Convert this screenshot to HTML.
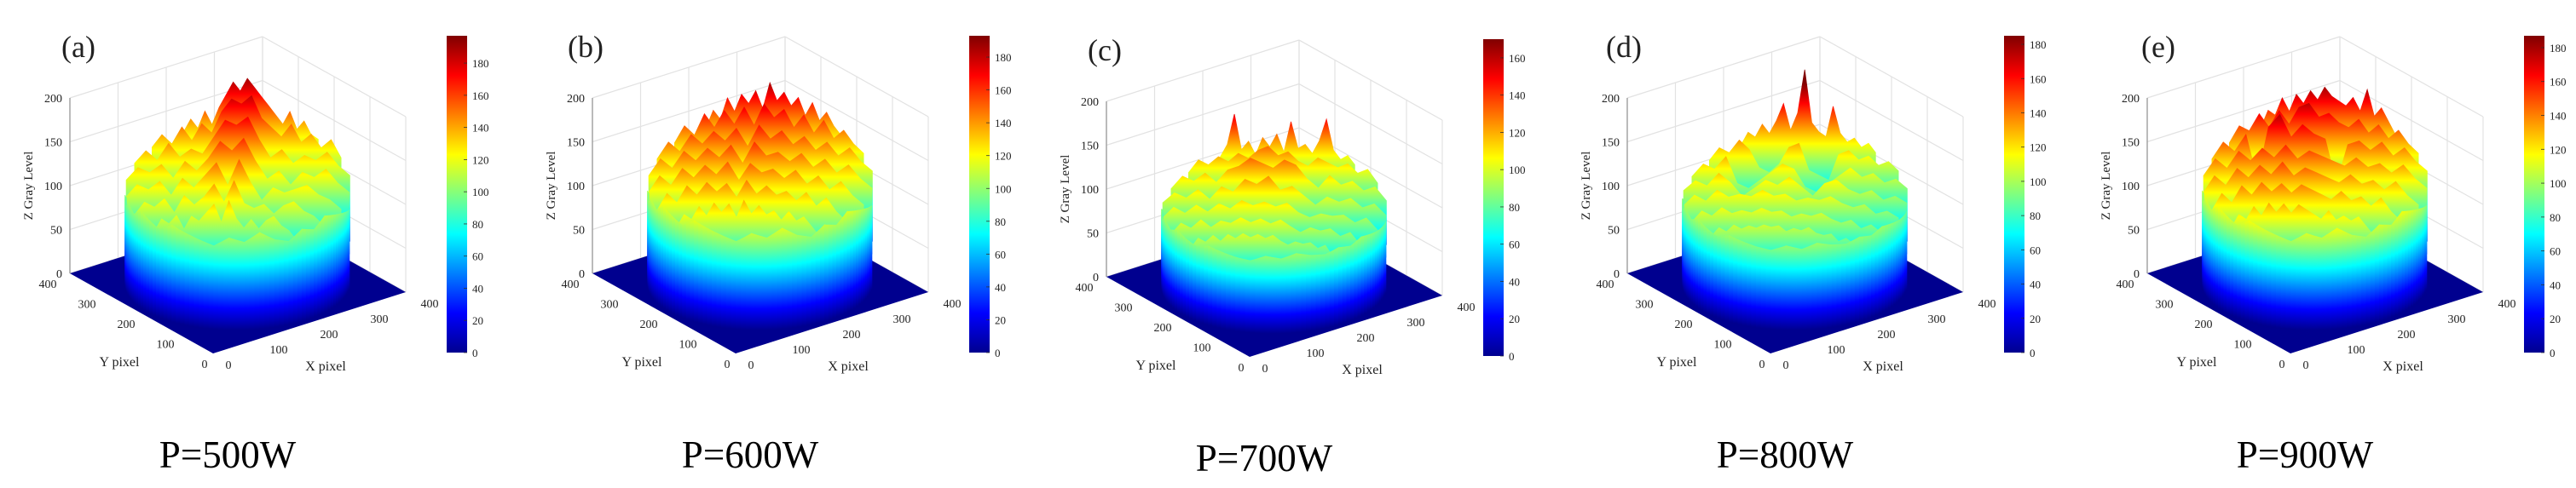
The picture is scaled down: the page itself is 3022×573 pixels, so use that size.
<!DOCTYPE html>
<html><head><meta charset="utf-8">
<style>
html,body{margin:0;padding:0;background:#fff;}
svg{display:block;}
text{font-family:"Liberation Serif",serif;}
</style></head>
<body>
<svg id="fig" xmlns="http://www.w3.org/2000/svg" width="3022" height="573" viewBox="0 0 3022 573">
<rect x="0" y="0" width="3022" height="573" fill="#fff"/>
<defs id="defs"></defs>
</svg>
<script>
// ---- data ----
const panelLetters = ["(a)","(b)","(c)","(d)","(e)"];
const powerLabels = ["P=500W","P=600W","P=700W","P=800W","P=900W"];
const colorMax = [197,193,170,185,187];
const zTicks = [0,50,100,150,200];
const xyTicks = [0,100,200,300,400];
const cbTicksA = [0,20,40,60,80,100,120,140,160,180];
const cbTicksC = [0,20,40,60,80,100,120,140,160];

const rowsA = [
 [125,140,130,150,135,155,170,185,175,190,180,170,160,150,140,155,135,145,130,125],
 [120,135,125,145,130,150,140,165,180,175,185,160,150,140,155,135,145,130,140,120],
 [115,130,120,140,125,135,130,150,170,165,175,150,130,140,125,135,130,140,125,115],
 [110,125,120,130,115,135,125,140,160,150,165,140,120,130,115,130,125,135,120,110],
 [105,120,115,125,110,130,120,135,150,125,155,130,110,125,120,125,130,120,115,105],
 [100,115,110,120,105,125,115,125,140,120,145,120,115,120,110,120,125,115,110,100],
 [95,110,105,115,100,115,110,120,130,110,135,115,105,115,105,115,120,110,105,95]];
const edgeA = [90,100,95,105,100,110,105,100,110,105,100,95,105,100,110,100,95,105,100,110,105,100,95,90];

const rowsB = [
 [130,150,140,165,150,170,160,175,155,185,165,175,160,170,150,165,145,155,140,130],
 [125,145,135,160,145,165,150,170,150,175,160,170,150,165,145,160,140,150,135,125],
 [120,140,130,150,140,155,145,160,140,165,150,160,145,155,140,150,135,145,130,120],
 [115,135,125,145,135,150,140,155,135,160,145,150,140,150,135,145,130,140,125,115],
 [110,130,120,140,130,145,135,150,130,150,140,145,135,145,130,140,125,135,120,110],
 [105,125,115,135,125,140,130,140,125,145,130,140,130,135,125,135,120,130,115,105],
 [100,115,110,125,115,130,120,130,115,135,120,130,120,125,115,125,115,120,110,100]];
const edgeB = [95,105,100,110,105,115,110,105,115,110,105,100,110,105,115,105,100,110,105,115,110,105,100,95];

const rowsC = [
 [100,115,150,110,120,105,125,115,130,110,145,115,120,110,125,150,115,105,110,100],
 [95,110,105,115,110,120,115,125,130,120,125,115,110,120,115,110,115,105,110,95],
 [90,105,100,110,100,115,120,130,125,120,130,125,110,100,115,105,110,100,105,90],
 [88,100,95,105,95,110,105,120,115,125,110,115,105,95,105,100,105,95,100,88],
 [85,98,92,102,95,105,100,110,105,110,105,110,100,95,100,98,100,92,98,85],
 [82,95,90,100,92,100,98,105,100,105,100,105,98,92,98,95,98,90,95,82],
 [80,92,88,96,90,98,94,100,96,100,96,100,94,90,94,92,94,88,92,80]];
const edgeC = [80,88,84,90,86,92,88,85,90,87,84,82,88,85,90,86,84,88,85,90,87,84,82,80];

const rowsD = [
 [110,125,120,135,125,140,160,130,150,200,140,130,125,160,130,120,125,115,120,110],
 [105,120,115,130,120,100,95,105,125,130,100,95,90,120,125,115,120,110,115,105],
 [100,115,110,125,95,90,100,110,120,115,95,90,100,110,120,110,115,105,110,100],
 [98,110,105,120,110,95,105,115,110,120,110,100,115,120,110,105,110,100,105,98],
 [95,108,102,115,108,112,110,118,112,115,108,112,110,115,108,104,108,98,102,95],
 [92,105,100,110,104,108,106,112,108,110,104,108,106,110,104,100,104,95,100,92],
 [90,100,96,104,100,104,102,106,104,106,100,104,102,106,100,98,100,92,96,90]];
const edgeD = [88,96,92,98,94,100,96,92,98,95,92,90,96,92,98,94,92,96,93,98,95,92,90,88];

const rowsE = [
 [130,150,145,165,150,170,160,175,165,180,170,165,160,170,155,180,150,160,145,130],
 [125,145,140,160,145,165,150,170,175,160,165,155,150,160,145,155,140,150,135,125],
 [120,140,130,150,100,160,175,150,165,155,150,100,145,150,140,150,135,145,130,120],
 [115,135,125,145,135,150,140,155,140,150,145,140,135,145,135,140,130,140,125,115],
 [110,130,120,140,130,145,135,150,135,145,140,135,130,140,130,135,125,135,120,110],
 [105,125,115,135,125,140,130,140,130,140,135,130,125,135,125,130,120,130,115,105],
 [100,115,110,125,115,130,120,130,120,130,125,120,115,125,115,120,115,120,110,100]];
const edgeE = [95,105,100,110,105,115,110,105,115,110,105,100,110,105,115,105,100,110,105,115,110,105,100,95];

const allRows = [rowsA,rowsB,rowsC,rowsD,rowsE];
const allEdges = [edgeA,edgeB,edgeC,edgeD,edgeE];

// ---- layout ----
const panelX = [0,613,1216,1827,2437];
const panelY = [0,0,4,0,0];
const letterX = [72,53,60,57,75];
const rowU = [150,100,50,0,-50,-100,-145];
const R = 188, ZS = 1.03;
const NS = "http://www.w3.org/2000/svg";
const svg = document.getElementById('fig');
const defs = document.getElementById('defs');
let gid = 0;

function P(x,y,z){ return [250 + x*0.565 - y*0.42, 415 - x*0.18 - y*0.235 - z*ZS]; }
const jetStops = [[0,"#00008f"],[0.125,"#0000ff"],[0.375,"#00ffff"],[0.625,"#ffff00"],[0.875,"#ff0000"],[1,"#800000"]];
function mkGrad(y1,y2){
  const g = document.createElementNS(NS,'linearGradient');
  const id = 'g'+(gid++);
  g.setAttribute('id',id);
  g.setAttribute('gradientUnits','userSpaceOnUse');
  g.setAttribute('x1',0); g.setAttribute('x2',0);
  g.setAttribute('y1',y1); g.setAttribute('y2',y2);
  jetStops.forEach(s=>{
    const st = document.createElementNS(NS,'stop');
    st.setAttribute('offset',s[0]); st.setAttribute('stop-color',s[1]);
    g.appendChild(st);
  });
  defs.appendChild(g);
  return 'url(#'+id+')';
}
function el(tag, attrs, parent){
  const e = document.createElementNS(NS,tag);
  for (const k in attrs) e.setAttribute(k, attrs[k]);
  parent.appendChild(e);
  return e;
}
function line(a,b,stroke,w,parent,name){
  const l = el('line',{x1:a[0],y1:a[1],x2:b[0],y2:b[1],stroke:stroke,'stroke-width':w},parent);
  
  
  return l;
}
function txt(s,x,y,size,anchor,parent,name,extra){
  const t = el('text',{x:x,y:y,'font-size':size,'text-anchor':anchor,fill:'#222'},parent);
  if (extra) for (const k in extra) t.setAttribute(k, extra[k]);
  t.textContent = s;
  
  
  return t;
}

for (let p=0;p<5;p++){
  const cmax = colorMax[p];
  const g = el('g',{transform:'translate('+panelX[p]+','+panelY[p]+')'},svg);
  
  

  // back-wall grid
  const grid = el('g',{},g);
  
  
  const gc = '#e2e2e2';
  zTicks.forEach(z=>{
    line(P(0,400,z),P(400,400,z),gc,1.2,grid,'grid-line-z');
    line(P(400,400,z),P(400,0,z),gc,1.2,grid,'grid-line-z');
  });
  xyTicks.forEach(v=>{
    line(P(v,400,0),P(v,400,200),gc,1.2,grid,'grid-line-x');
    line(P(400,v,0),P(400,v,200),gc,1.2,grid,'grid-line-y');
  });
  line(P(0,400,0),P(0,400,200),'#999',1.3,g,'z-axis-line');

  // floor
  const fl = [P(0,0,0),P(400,0,0),P(400,400,0),P(0,400,0)];
  const floor = el('polygon',{points:fl.map(q=>q.join(',')).join(' '),fill:'#00008f'},g);
  
  

  // top surface rows (back to front)
  const rows = allRows[p];
  rows.forEach((vals,ri)=>{
    const u = rowU[ri];
    const w = Math.sqrt(R*R-u*u);
    const n = vals.length;
    const top=[], bot=[];
    for (let i=0;i<n;i++){
      const v = -w + 2*w*i/(n-1);
      const x = 200 + (u+v)/Math.SQRT2, y = 200 + (u-v)/Math.SQRT2;
      top.push(P(x,y,vals[i]));
      bot.push(P(x,y,40));
    }
    const base = P(200+u/Math.SQRT2,200+u/Math.SQRT2,0)[1];
    const fill = mkGrad(base, base - ZS*cmax);
    const pts = top.concat(bot.reverse());
    const poly = el('polygon',{points:pts.map(q=>q[0].toFixed(1)+','+q[1].toFixed(1)).join(' '),fill:fill,stroke:fill,'stroke-width':0.8},g);
    
    
  });

  // cylinder side (front half)
  const edge = allEdges[p];
  const th0 = 135*Math.PI/180, th1 = 315*Math.PI/180;
  const ne = edge.length, sub = 3;
  for (let i=0;i<ne-1;i++){
    for (let s=0;s<sub;s++){
      const f0 = (i + s/sub)/(ne-1), f1 = (i + (s+1)/sub)/(ne-1);
      const h0 = edge[i] + (edge[i+1]-edge[i])*s/sub;
      const h1 = edge[i] + (edge[i+1]-edge[i])*(s+1)/sub;
      const a0 = th0 + (th1-th0)*f0, a1 = th0 + (th1-th0)*f1;
      const x0 = 200+R*Math.cos(a0), y0 = 200+R*Math.sin(a0);
      const x1 = 200+R*Math.cos(a1), y1 = 200+R*Math.sin(a1);
      const b0 = P(x0,y0,0), b1 = P(x1,y1,0), t0 = P(x0,y0,h0), t1 = P(x1,y1,h1);
      const base = (b0[1]+b1[1])/2;
      const fill = mkGrad(base, base - ZS*cmax);
      const q = el('polygon',{points:[b0,b1,t1,t0].map(v=>v[0].toFixed(1)+','+v[1].toFixed(1)).join(' '),fill:fill,stroke:fill,'stroke-width':0.8},g);
      
      
    }
  }

  // tick labels
  zTicks.forEach(z=>{
    const q = P(0,400,z);
    txt(String(z), q[0]-9, q[1]+5, 14, 'end', g, 'z-tick-label');
  });
  xyTicks.forEach(v=>{
    const t = 1 - v/400;
    const q = P(0,v,0);
    txt(String(v), q[0]-26+16*t, q[1]+17, 14, 'middle', g, 'y-tick-label');
    const r = P(v,0,0);
    txt(String(v), r[0]+18+10*v/400, r[1]+18, 14, 'middle', g, 'x-tick-label');
  });
  txt('Z Gray Level', 0, 0, 15, 'middle', g, 'z-axis-title', {transform:'translate(38,218) rotate(-90)'});
  txt('Y pixel', 140, 430, 16, 'middle', g, 'y-axis-title');
  txt('X pixel', 382, 435, 16, 'middle', g, 'x-axis-title');

  // colorbar
  const cbTop = 42, cbBot = 414;
  const cbFill = mkGrad(cbBot, cbTop);
  const cb = el('rect',{x:524,y:cbTop,width:24,height:cbBot-cbTop,fill:cbFill},g);
  
  
  const ticks = (p===2) ? cbTicksC : cbTicksA;
  ticks.forEach(v=>{
    const y = cbBot - v/cmax*(cbBot-cbTop);
    line([544,y],[548,y],'#333',0.8,g,'colorbar-tick');
    txt(String(v), 554, y+5, 13, 'start', g, 'colorbar-tick-label');
  });

  // panel letter and power label
  txt(panelLetters[p], letterX[p], 67, 36, 'start', g, 'panel-letter');
  txt(powerLabels[p], 267, 549, 45, 'middle', g, 'power-label', {fill:'#000'});
}
</script>
</body></html>
